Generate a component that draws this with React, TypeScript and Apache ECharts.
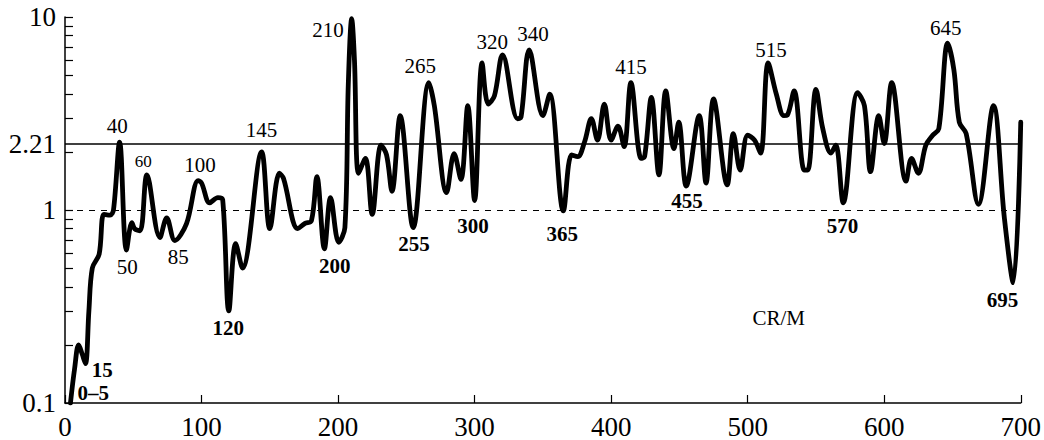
import React, { useEffect, useRef } from "react";
import * as echarts from "echarts";

// Curve samples (x, ratio)
const xs: number[] = [
  4, 7, 10, 12.5, 15, 17.5, 20, 25, 28.5, 33, 35.5, 40, 45, 49, 51, 55, 60, 69.5, 74.5, 80.5,
  89, 97.5, 100, 106, 112, 115.5, 120, 125, 130, 144, 150, 157, 160, 170.5, 175.5, 180.5, 184.5, 190, 194.5, 200.5,
  205, 207.5, 210, 212, 215, 220, 225, 231.5, 235.5, 239.5, 245.5, 255, 266.5, 270.5, 279.5, 285, 290, 295, 300,
  305.5, 310, 314.5, 320.5, 331.5, 334, 340, 350, 355, 365, 371, 375.5, 380.5, 385.5, 390, 395, 400,
  405, 409.5, 414.5, 422, 424.5, 429.5, 435, 440, 446, 449.5, 455, 464.5, 469.5, 475, 485, 489.5, 494.5, 500,
  505, 509.5, 515, 521, 526.5, 529, 534, 541.5, 544, 550, 555, 561, 564.5, 570, 580.5, 585.5, 590, 596, 600,
  605.5, 616, 620, 625, 630.5, 635.5, 640, 646.5, 651, 655, 660, 669, 680, 688, 694.5, 700,
];
const ys: number[] = [
  0.1, 0.15, 0.2, 0.18, 0.16, 0.3, 0.5, 0.59, 0.95, 0.94, 1.0, 2.25, 0.62, 0.86, 0.8, 0.78, 1.52, 0.72, 0.91, 0.695,
  0.85, 1.42, 1.38, 1.09, 1.16, 1.13, 0.3, 0.67, 0.5, 2.0, 0.8, 1.55, 1.46, 0.8, 0.85, 0.88, 1.49, 0.63, 1.16, 0.68,
  0.81, 4.5, 9.8, 6.0, 1.55, 1.85, 0.95, 2.17, 1.93, 1.25, 3.08, 0.81, 4.57, 3.47, 1.23, 1.96, 1.44, 3.47, 1.12,
  5.78, 3.54, 3.9, 6.37, 2.97, 3.03, 6.76, 3.08, 3.98, 0.99, 1.93, 1.89, 2.25, 2.97, 2.3, 3.54, 2.3,
  2.72, 2.13, 4.57, 1.85, 1.89, 3.83, 1.52, 4.14, 2.08, 2.85, 1.33, 3.08, 1.38, 3.76, 1.35, 2.49, 1.61, 2.44,
  2.3, 1.97, 5.78, 3.98, 3.08, 3.1, 4.14, 1.61, 1.61, 4.22, 2.64, 1.97, 2.17, 1.09, 4.06, 3.47, 1.58, 3.08, 2.21,
  4.57, 1.41, 1.85, 1.55, 2.17, 2.44, 2.64, 7.31, 5.34, 2.85, 2.49, 1.07, 3.47, 0.91, 0.42, 2.85,
];

// Reference levels
const solidLevel = 2.21;
const dashedLevel = 1;

// Axis labels / ticks
const yLabelValues: number[] = [0.1, 1, 2.21, 10];
const yTickValues: number[] = [
  0.1, 0.2, 0.3, 0.4, 0.5, 0.6, 0.7, 0.8, 0.9, 1, 2, 3, 4, 5, 6, 7, 8, 9, 10,
];

// Annotations
const annText: string[] = [
  "0–5", "15", "40", "50", "60", "85", "100", "120", "145", "200", "210", "255", "265", "300",
  "320", "340", "365", "415", "455", "515", "570", "645", "695", "CR/M",
];
const annX: number[] = [
  20.7, 27.3, 38.3, 45.6, 57.3, 82.9, 98.8, 119.5, 143.9, 197.6, 192.7, 255.6, 260.2, 298.8,
  312.9, 342.7, 364.1, 414.6, 455.6, 517.1, 569.5, 645.1, 686.6, 522.7,
];
const annY: number[] = [
  0.113, 0.148, 2.74, 0.504, 1.79, 0.571, 1.71, 0.244, 2.6, 0.512, 8.6, 0.663, 5.55, 0.83,
  7.46, 8.16, 0.751, 5.49, 1.11, 6.75, 0.83, 8.72, 0.343, 0.277,
];
const annBold: boolean[] = [
  true, true, false, false, false, false, false, true, false, true, false, true, false, true,
  false, false, true, false, true, false, true, false, true, false,
];

const FONT = "'Liberation Serif', 'Times New Roman', serif";

export default function App() {
  const ref = useRef<HTMLDivElement>(null);
  useEffect(() => {
    if (!ref.current) return;
    const chart = echarts.init(ref.current, undefined, { renderer: "svg" });
    const lineData = xs.map((x, i) => [x, ys[i]]);
    const annData = annText.map((t, i) => ({
      value: [annX[i], annY[i], t],
      label: {
        fontWeight: annBold[i] ? "bold" : "normal",
        fontSize: t === "60" ? 17 : 21,
      },
    }));
    chart.setOption({
      animation: false,
      backgroundColor: "#fff",
      grid: { left: 65, right: 22, top: 17, bottom: 31, containLabel: false },
      xAxis: {
        type: "value",
        min: 0,
        max: 700,
        interval: 100,
        axisLine: { show: true, lineStyle: { color: "#000", width: 1.5 } },
        axisTick: { show: true, inside: true, length: 8, lineStyle: { color: "#000", width: 1.2 } },
        axisLabel: { color: "#000", fontFamily: FONT, fontSize: 27, margin: 10 },
        splitLine: { show: false },
      },
      yAxis: {
        type: "log",
        logBase: 10,
        min: 0.1,
        max: 10,
        axisLine: { show: true, lineStyle: { color: "#000", width: 1.5 } },
        axisTick: {
          show: true,
          inside: true,
          length: 8,
          customValues: yTickValues,
          lineStyle: { color: "#000", width: 1.2 },
        },
        axisLabel: {
          color: "#000",
          fontFamily: FONT,
          fontSize: 27,
          margin: 9,
          customValues: yLabelValues,
          formatter: (v: number) => String(Math.round(v * 100) / 100),
        },
        minorTick: { show: false },
        splitLine: { show: false },
      },
      series: [
        {
          type: "line",
          data: lineData,
          showSymbol: false,
          symbol: "none",
          smooth: 0.35,
          lineStyle: { color: "#000", width: 4.8, join: "round", cap: "round" },
          markLine: {
            silent: true,
            symbol: "none",
            label: { show: false },
            data: [
              { yAxis: solidLevel, lineStyle: { color: "#000", width: 1.5, type: "solid" } },
              { yAxis: dashedLevel, lineStyle: { color: "#000", width: 1.2, type: [6, 6] } },
            ],
          },
          z: 3,
        },
        {
          type: "scatter",
          data: annData,
          symbolSize: 0,
          itemStyle: { opacity: 1, color: "#000" },
          label: {
            show: true,
            position: "inside",
            color: "#000",
            opacity: 1,
            fontFamily: FONT,
            fontSize: 21,
            formatter: (p: any) => p.value[2],
          },
          z: 4,
        },
      ],
    });
    return () => chart.dispose();
  }, []);
  return (
    <div
      ref={ref}
      style={{ position: "fixed", left: 0, top: 0, width: 1044, height: 440, background: "#fff" }}
    />
  );
}
